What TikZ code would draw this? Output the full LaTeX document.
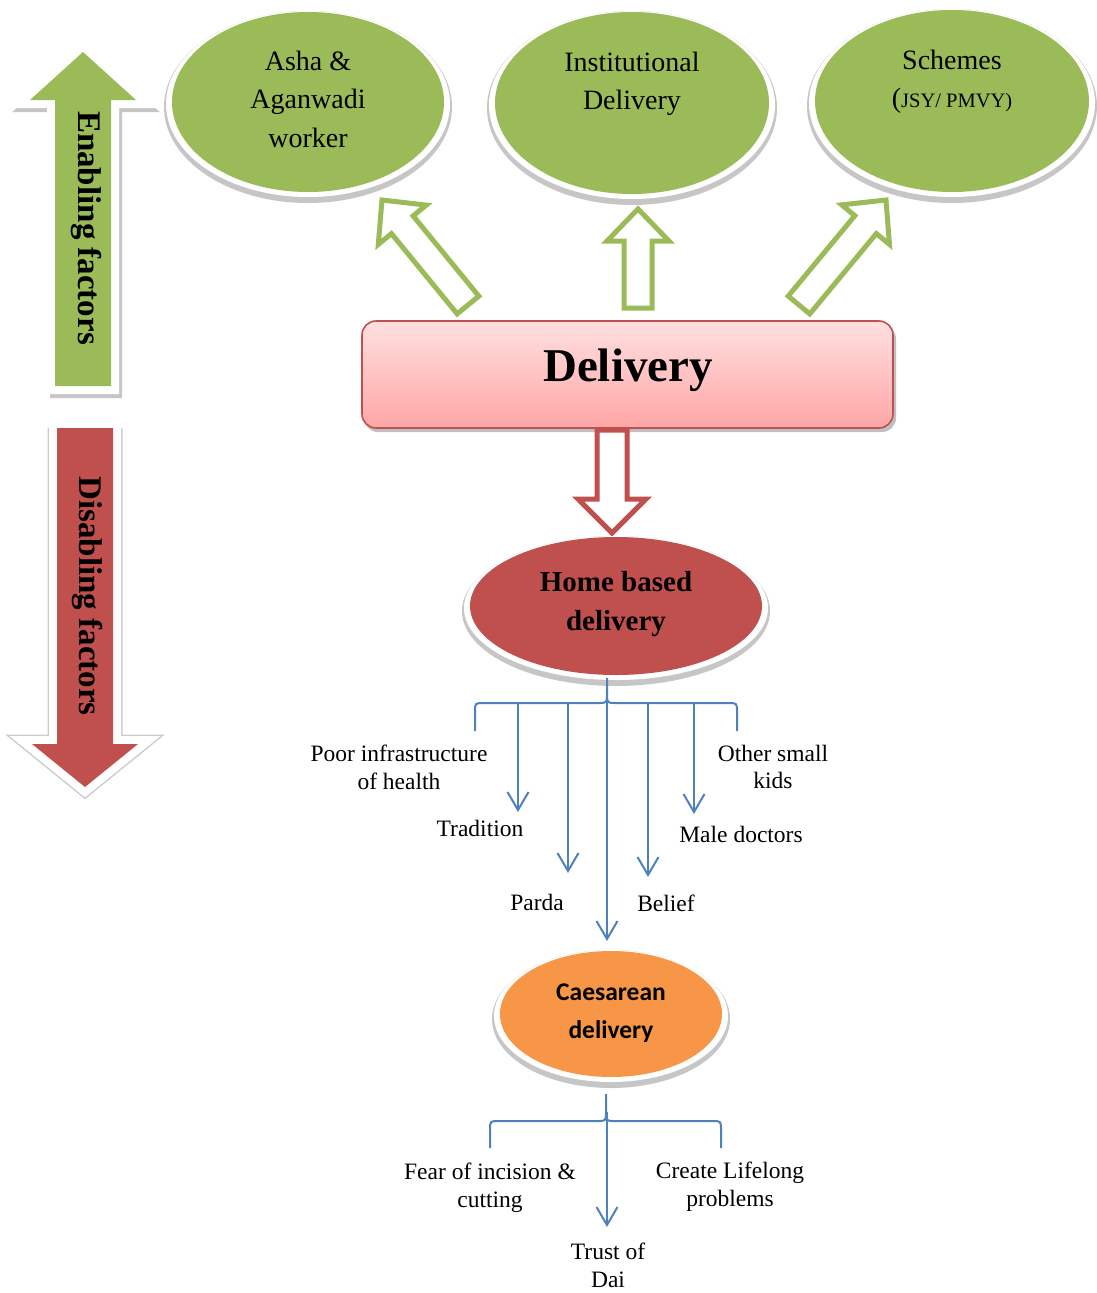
\documentclass[tikz,border=0pt]{standalone}
\usepackage{fontspec}
\setmainfont{Liberation Serif}
\newfontfamily\calib{Carlito}
\usetikzlibrary{shapes.geometric,arrows.meta,calc}

\definecolor{eGreen}{HTML}{9BBB59}
\definecolor{eRed}{HTML}{C0504D}
\definecolor{eOrange}{HTML}{F79646}
\definecolor{eBlue}{HTML}{4F81BD}
\definecolor{pinkTop}{HTML}{FFE0E0}
\definecolor{pinkBot}{HTML}{FFA6A6}

% grey drop shadow and white rim behind an oval: centre x, centre y, rx, ry
\newcommand\ovalshadow[4]{%
  \pgfmathsetmacro\osGx{#3+8}\pgfmathsetmacro\osGy{#4+6}%
  \pgfmathsetmacro\osWx{#3+6}\pgfmathsetmacro\osWy{#4+3}%
  \fill[gray!45] (#1,#2+5) ellipse [x radius=\osGx pt, y radius=\osGy pt];
  \fill[white] (#1,#2+2) ellipse [x radius=\osWx pt, y radius=\osWy pt];
}

% outlined block arrow: style, tail, tip, shaft half width, head half width, head length
\newcommand\hollowarrow[6]{%
  \coordinate (habase) at ($(#3)!#6!(#2)$);
  \draw[#1] ($(#2)!#4!90:(#3)$) -- ($(habase)!#4!90:(#3)$) -- ($(habase)!#5!90:(#3)$)
    -- (#3) -- ($(habase)!#5!-90:(#3)$) -- ($(habase)!#4!-90:(#3)$) -- ($(#2)!#4!-90:(#3)$) -- cycle;
}

\begin{document}
\begin{tikzpicture}[x=1pt,y=-1pt,
  oval/.style={ellipse, inner sep=0pt},
  ovaltext/.style={font=\fontsize{28}{38.5}\selectfont, align=center, inner sep=0pt},
  boldtext/.style={font=\bfseries\fontsize{29}{39}\selectfont, align=center, inner sep=0pt},
  lbl/.style={font=\fontsize{23.5}{27.8}\selectfont, align=center, inner sep=0pt},
  sidetext/.style={font=\bfseries\fontsize{33}{33}\selectfont, rotate=-90, inner sep=0pt},
  hollowG/.style={draw=eGreen, line width=5pt, fill=white, line join=miter},
  hollowR/.style={draw=eRed, line width=5pt, fill=white, line join=miter},
  bline/.style={draw=eBlue, line width=2pt},
  flow/.style={draw=eBlue, line width=2pt, -{Straight Barb[length=18pt,width=21pt]}}
]
\useasboundingbox (0,0) rectangle (1096,1293);
\fill[white] (0,0) rectangle (1096,1293);

% ---------- side arrow: enabling factors ----------
\draw[gray!45, fill=gray!45, line width=16pt, line join=miter, shift={(3,4)}]
  (55,386) -- (55,100) -- (30,100) -- (83,52) -- (136,100) -- (111,100) -- (111,386) -- cycle;
\draw[white, fill=white, line width=16pt, line join=miter]
  (55,386) -- (55,100) -- (30,100) -- (83,52) -- (136,100) -- (111,100) -- (111,386) -- cycle;
\fill[eGreen]
  (55,386) -- (55,100) -- (30,100) -- (83,52) -- (136,100) -- (111,100) -- (111,386) -- cycle;
\node[sidetext] (enabling) at (86,228) {Enabling factors};

% ---------- side arrow: disabling factors ----------
\draw[gray!40, line width=19pt, line join=miter]
  (57,428) -- (57,744) -- (32,744) -- (85,787) -- (138,744) -- (113,744) -- (113,428);
\draw[white, line width=16pt, line join=miter]
  (57,428) -- (57,744) -- (32,744) -- (85,787) -- (138,744) -- (113,744) -- (113,428);
\fill[eRed]
  (57,428) -- (57,744) -- (32,744) -- (85,787) -- (138,744) -- (113,744) -- (113,428) -- cycle;
\node[sidetext] (disabling) at (87,596) {Disabling factors};

% ---------- enabling ovals ----------
\ovalshadow{308}{102}{136}{90}
\node[oval, fill=eGreen, minimum width=272pt, minimum height=180pt] (asha) at (308,102) {};
\node[ovaltext] (ashaText) at (308,99) {Asha \&\\Aganwadi\\worker};

\ovalshadow{632}{103}{137}{91}
\node[oval, fill=eGreen, minimum width=274pt, minimum height=182pt] (inst) at (632,103) {};
\node[ovaltext] (instText) at (632,84) {Institutional\\Delivery};

\ovalshadow{952}{101}{137}{91}
\node[oval, fill=eGreen, minimum width=274pt, minimum height=182pt] (schemes) at (952,101) {};
\node[ovaltext] (schemesText) at (952,82) {Schemes\\(\fontsize{20.5}{38.5}\selectfont JSY/ PMVY)};

% ---------- central box ----------
\fill[gray!50, rounded corners=14pt] (364,325) rectangle (896,432);
\node[draw=eRed, line width=1.6pt, rounded corners=14pt, top color=pinkTop, bottom color=pinkBot,
      minimum width=531pt, minimum height=107pt, inner sep=0pt] (delivery) at (627.5,374.5) {};
\node[font=\bfseries\fontsize{47}{47}\selectfont, inner sep=0pt] (deliveryText) at (628,370) {Delivery};

% ---------- arrows from the box up to the ovals ----------
\coordinate (gTail1) at (468,305);
\coordinate (gTip1)  at (382,200);
\coordinate (gTail2) at (638,308);
\coordinate (gTip2)  at (638,209);
\coordinate (gTail3) at (799,305);
\coordinate (gTip3)  at (886,200);
\hollowarrow{hollowG}{gTail1}{gTip1}{14pt}{31pt}{32pt}
\hollowarrow{hollowG}{gTail2}{gTip2}{14pt}{31pt}{32pt}
\hollowarrow{hollowG}{gTail3}{gTip3}{14pt}{31pt}{32pt}

% ---------- arrow down to home based delivery ----------
\coordinate (rTail) at (612,430);
\coordinate (rTip)  at (612,533);
\hollowarrow{hollowR}{rTail}{rTip}{15pt}{34pt}{34pt}

\ovalshadow{616}{606}{146}{69}
\node[oval, fill=eRed, minimum width=292pt, minimum height=138pt] (home) at (616,606) {};
\node[boldtext] (homeText) at (616,604) {Home based\\delivery};

% ---------- factors of home based delivery ----------
\coordinate (hbTip) at (607,678);
\draw[bline] (475,731) -- (475,712) .. controls (475,703) .. (484,703) -- (598,703)
  .. controls (607,703) .. (607,694) -- (hbTip);
\draw[bline] (607,694) .. controls (607,703) .. (616,703) -- (728,703)
  .. controls (737,703) .. (737,712) -- (737,731);

\coordinate (fTradS) at (518,703);  \coordinate (fTradE) at (518,812);
\coordinate (fPardS) at (568,703);  \coordinate (fPardE) at (568,873);
\coordinate (fMidE)  at (607,941);
\coordinate (fBelS)  at (648,703);  \coordinate (fBelE)  at (648,877);
\coordinate (fMaleS) at (694,703);  \coordinate (fMaleE) at (694,814);
\draw[flow] (fTradS) -- (fTradE);
\draw[flow] (fPardS) -- (fPardE);
\draw[flow] (hbTip) -- (fMidE);
\draw[flow] (fBelS) -- (fBelE);
\draw[flow] (fMaleS) -- (fMaleE);

\node[lbl] (poor)  at (399,767) {Poor infrastructure\\of health};
\node[lbl] (trad)  at (480,828) {Tradition};
\node[lbl] (parda) at (537,902) {Parda};
\node[lbl] (belief) at (666,903) {Belief};
\node[lbl] (male)  at (741,834) {Male doctors};
\node[lbl] (kids)  at (773,767) {Other small\\kids};

% ---------- caesarean delivery ----------
\ovalshadow{611}{1014}{111}{63}
\node[oval, fill=eOrange, minimum width=222pt, minimum height=126pt] (caes) at (611,1014) {};
\node[font=\calib\bfseries\fontsize{25.5}{38}\selectfont, align=center, inner sep=0pt] (caesText) at (611,1013) {Caesarean\\delivery};

\coordinate (csTip) at (606,1094);
\draw[bline] (490,1148) -- (490,1130) .. controls (490,1121) .. (499,1121) -- (597,1121)
  .. controls (606,1121) .. (606,1112) -- (csTip);
\draw[bline] (606,1112) .. controls (606,1121) .. (615,1121) -- (712,1121)
  .. controls (721,1121) .. (721,1130) -- (721,1148);
\coordinate (csS) at (607,1112);
\coordinate (csE) at (607,1227);
\draw[flow] (csS) -- (csE);

\node[lbl] (fear)  at (490,1188) {Fear of incision \&\\cutting};
\node[lbl] (life)  at (730,1187) {Create Lifelong\\problems};
\node[lbl] (trust) at (608,1265) {Trust of\\Dai};
\end{tikzpicture}
\end{document}
